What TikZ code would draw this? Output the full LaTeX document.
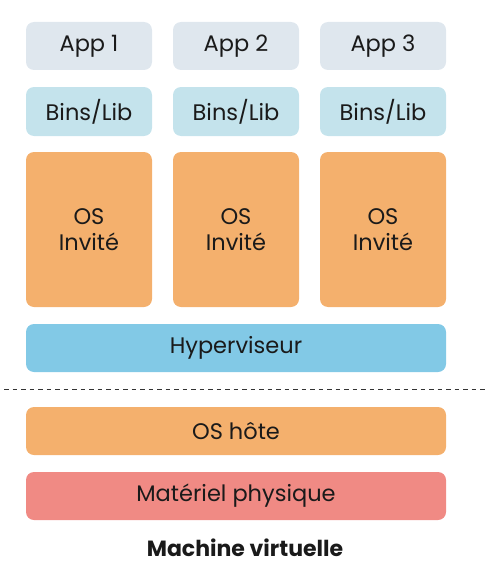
\documentclass[tikz,border=0pt]{standalone}
\usepackage{fontspec}
\setmainfont{Poppins}
\definecolor{appc}{HTML}{DFE7EE}
\definecolor{binc}{HTML}{C4E3EC}
\definecolor{osc}{HTML}{F4B06D}
\definecolor{hypc}{HTML}{82C9E6}
\definecolor{hwc}{HTML}{F08A84}
\definecolor{txtc}{HTML}{1A1A1A}
\tikzset{
  blk/.style={rectangle, rounded corners=8pt, inner sep=0pt, align=center,
    text=txtc, font=\fontsize{22.5}{25.5}\selectfont},
  app/.style={blk, fill=appc, minimum width=126pt, minimum height=48pt},
  bins/.style={blk, fill=binc, minimum width=126pt, minimum height=49pt},
  guest/.style={blk, fill=osc, minimum width=126pt, minimum height=155pt},
  wide/.style={blk, minimum width=420pt, minimum height=48pt},
  sep/.style={draw=black!80, line width=0.9pt, dash pattern=on 4.5pt off 4pt},
}
\begin{document}
\begin{tikzpicture}[x=1pt,y=-1pt]
\useasboundingbox (0,0) rectangle (498,578);
\node[app] (a1) at (89,46) {App 1};
\node[app] (a2) at (236,46) {App 2};
\node[app] (a3) at (383,46) {App 3};
\node[bins] (b1) at (89,111.5) {Bins/Lib};
\node[bins] (b2) at (236,111.5) {Bins/Lib};
\node[bins] (b3) at (383,111.5) {Bins/Lib};
\node[guest] (g1) at (89,229.5) {OS\\Invité};
\node[guest] (g2) at (236,229.5) {OS\\Invité};
\node[guest] (g3) at (383,229.5) {OS\\Invité};
\node[wide, fill=hypc] (hyp) at (236,348) {Hyperviseur};
\coordinate (dl) at (4,389);
\coordinate (dr) at (486,389);
\draw[sep] (dl) -- (dr);
\node[wide, fill=osc] (host) at (236,431) {OS hôte};
\node[wide, fill=hwc] (hw) at (236,496) {Matériel physique};
\node[text=txtc, font=\fontsize{22}{25}\selectfont\bfseries] (title) at (245,548) {Machine virtuelle};
\end{tikzpicture}
\end{document}
